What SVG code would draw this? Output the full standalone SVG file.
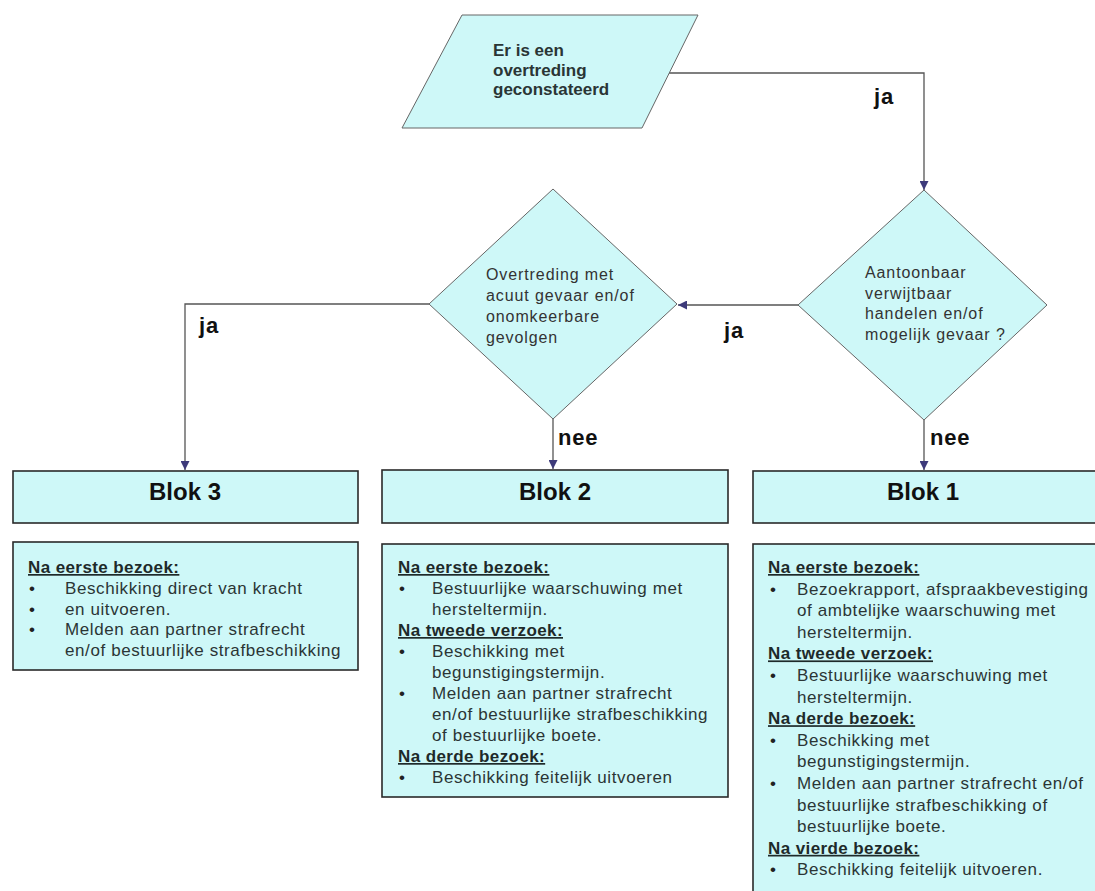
<svg xmlns="http://www.w3.org/2000/svg" width="1095" height="891" viewBox="0 0 1095 891">
<defs>
<marker id="arr" viewBox="0 0 10 10" refX="10" refY="5" markerWidth="9" markerHeight="9" markerUnits="userSpaceOnUse" orient="auto">
<path d="M0,0 L10,5 L0,10 z" fill="#3d3a7a"/>
</marker>
<style>
.shape{fill:#cef8f8;stroke:#666;stroke-width:1}
.box{fill:#cef8f8;stroke:#2a2a2a;stroke-width:1.6}
.conn{fill:none;stroke:#555;stroke-width:1.3;marker-end:url(#arr)}
.start{font-family:"Liberation Sans",Arial,sans-serif;font-size:17px;font-weight:bold;fill:#2a3535}
.dtxt{font-family:"Liberation Sans",Arial,sans-serif;font-size:16px;letter-spacing:0.9px;fill:#333}
.lbl{font-family:"Liberation Sans",Arial,sans-serif;font-size:22px;font-weight:bold;letter-spacing:0.8px;fill:#111}
.title{font-family:"Liberation Sans",Arial,sans-serif;font-size:24px;font-weight:bold;fill:#111;text-anchor:middle}
.body{font-family:"Liberation Sans",Arial,sans-serif;font-size:17px;letter-spacing:0.6px;fill:#2b3535}
.hd{font-family:"Liberation Sans",Arial,sans-serif;font-size:17px;font-weight:bold;letter-spacing:0.4px;fill:#1e2a2a;text-decoration:underline}
.bul{font-family:"Liberation Sans",Arial,sans-serif;font-size:17px;fill:#222}
</style>
</defs>
<rect width="1095" height="891" fill="#ffffff"/>

<g id="connectors">
<polyline class="conn" points="669,73 924,73 924,190"/>
<line class="conn" x1="798" y1="305" x2="678" y2="305"/>
<polyline class="conn" points="429,304 185,304 185,470"/>
<line class="conn" x1="553" y1="419" x2="553" y2="469"/>
<line class="conn" x1="924" y1="420" x2="924" y2="470"/>
<text class="lbl" x="874" y="104">ja</text>
<text class="lbl" x="724" y="338">ja</text>
<text class="lbl" x="199" y="333">ja</text>
<text class="lbl" x="558" y="445">nee</text>
<text class="lbl" x="930" y="445">nee</text>
</g>

<g id="start">
<polygon class="shape" points="462,15 698,15 642,128 402,128"/>
<text class="start" x="493" y="56">Er is een</text>
<text class="start" x="493" y="75.5">overtreding</text>
<text class="start" x="493" y="95">geconstateerd</text>
</g>

<g id="decision1">
<polygon class="shape" points="924,190 1047,305 924,420 798,305"/>
<text class="dtxt" x="865" y="278">Aantoonbaar</text>
<text class="dtxt" x="865" y="298.5">verwijtbaar</text>
<text class="dtxt" x="865" y="319">handelen en/of</text>
<text class="dtxt" x="865" y="339.5">mogelijk gevaar ?</text>
</g>

<g id="decision2">
<polygon class="shape" points="553,189 677,304 553,419 429,304"/>
<text class="dtxt" x="486" y="280">Overtreding met</text>
<text class="dtxt" x="486" y="301">acuut gevaar en/of</text>
<text class="dtxt" x="486" y="322">onomkeerbare</text>
<text class="dtxt" x="486" y="343">gevolgen</text>
</g>

<g id="blok3">
<rect class="box" x="13" y="471" width="345" height="52"/>
<text class="title" x="185" y="500">Blok 3</text>
</g>
<g id="blok3-text">
<rect class="box" x="13" y="542" width="345" height="128"/>
<text class="hd" x="28" y="573">Na eerste bezoek:</text>
<text class="bul" x="29" y="594">•</text>
<text class="body" x="65" y="594">Beschikking direct van kracht</text>
<text class="bul" x="29" y="615">•</text>
<text class="body" x="65" y="615">en uitvoeren.</text>
<text class="bul" x="29" y="635">•</text>
<text class="body" x="65" y="635">Melden aan partner strafrecht</text>
<text class="body" x="65" y="656">en/of bestuurlijke strafbeschikking</text>
</g>

<g id="blok2">
<rect class="box" x="382" y="470" width="346" height="53"/>
<text class="title" x="555" y="500">Blok 2</text>
</g>
<g id="blok2-text">
<rect class="box" x="382" y="544" width="346" height="253"/>
<text class="hd" x="398" y="573">Na eerste bezoek:</text>
<text class="bul" x="399" y="594">•</text>
<text class="body" x="432" y="594">Bestuurlijke waarschuwing met</text>
<text class="body" x="432" y="615">hersteltermijn.</text>
<text class="hd" x="398" y="636">Na tweede verzoek:</text>
<text class="bul" x="399" y="657">•</text>
<text class="body" x="432" y="657">Beschikking met</text>
<text class="body" x="432" y="678">begunstigingstermijn.</text>
<text class="bul" x="399" y="699">•</text>
<text class="body" x="432" y="699">Melden aan partner strafrecht</text>
<text class="body" x="432" y="720">en/of bestuurlijke strafbeschikking</text>
<text class="body" x="432" y="741">of bestuurlijke boete.</text>
<text class="hd" x="398" y="762">Na derde bezoek:</text>
<text class="bul" x="399" y="783">•</text>
<text class="body" x="432" y="783">Beschikking feitelijk uitvoeren</text>
</g>

<g id="blok1">
<rect class="box" x="753" y="471" width="350" height="52"/>
<text class="title" x="923" y="500">Blok 1</text>
</g>
<g id="blok1-text">
<rect class="box" x="753" y="544" width="350" height="360"/>
<text class="hd" x="768" y="573">Na eerste bezoek:</text>
<text class="bul" x="770" y="594.6">•</text>
<text class="body" x="797" y="594.6">Bezoekrapport, afspraakbevestiging</text>
<text class="body" x="797" y="616.2">of ambtelijke waarschuwing met</text>
<text class="body" x="797" y="637.8">hersteltermijn.</text>
<text class="hd" x="768" y="659.4">Na tweede verzoek:</text>
<text class="bul" x="770" y="681">•</text>
<text class="body" x="797" y="681">Bestuurlijke waarschuwing met</text>
<text class="body" x="797" y="702.6">hersteltermijn.</text>
<text class="hd" x="768" y="724.2">Na derde bezoek:</text>
<text class="bul" x="770" y="745.8">•</text>
<text class="body" x="797" y="745.8">Beschikking met</text>
<text class="body" x="797" y="767.4">begunstigingstermijn.</text>
<text class="bul" x="770" y="789">•</text>
<text class="body" x="797" y="789">Melden aan partner strafrecht en/of</text>
<text class="body" x="797" y="810.6">bestuurlijke strafbeschikking of</text>
<text class="body" x="797" y="832.2">bestuurlijke boete.</text>
<text class="hd" x="768" y="853.8">Na vierde bezoek:</text>
<text class="bul" x="770" y="875.4">•</text>
<text class="body" x="797" y="875.4">Beschikking feitelijk uitvoeren.</text>
</g>
</svg>
